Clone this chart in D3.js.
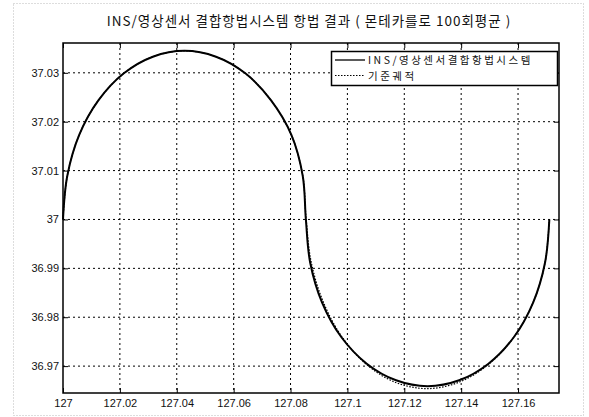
<!DOCTYPE html>
<html>
<head>
<meta charset="utf-8">
<script src="https://cdn.jsdelivr.net/npm/d3@7"></script>
<style>
    body { margin: 0; background: #fff; }
    svg { display: block; }
    .tick text { font-family: "Liberation Sans", Arial, sans-serif; font-size: 11px; fill: #111; }
    .title, .legend text { font-family: "Noto Sans CJK KR", "Liberation Sans", sans-serif; fill: #111; }
</style>
</head>
<body>
<div id="chart"></div>
<script>

// INS/영상센서 결합항법시스템 궤적 (longitude, latitude)
let insLon = [127.0000, 127.0015, 127.0057, 127.0125, 127.0214, 127.0316, 127.0427,
    127.0538, 127.0641, 127.0731, 127.0803, 127.0843, 127.0854,
    127.0869, 127.0911, 127.0979, 127.1068, 127.1171, 127.1282,
    127.1393, 127.1496, 127.1585, 127.1653, 127.1695, 127.1710];
let insLat = [37.0000, 37.0089, 37.0173, 37.0244, 37.0299, 37.0333, 37.0345,
    37.0333, 37.0299, 37.0244, 37.0173, 37.0089, 37.0000,
    36.9912, 36.9830, 36.9759, 36.9705, 36.9671, 36.9659,
    36.9671, 36.9705, 36.9759, 36.9830, 36.9912, 37.0000];

// 기준궤적
let refLon = [127.0000, 127.0015, 127.0057, 127.0125, 127.0214, 127.0316, 127.0427,
    127.0538, 127.0641, 127.0731, 127.0803, 127.0843, 127.0855,
    127.0873, 127.0916, 127.0983, 127.1070, 127.1172, 127.1282,
    127.1392, 127.1495, 127.1585, 127.1653, 127.1695, 127.1710];
let refLat = [37.0000, 37.0089, 37.0173, 37.0244, 37.0299, 37.0333, 37.0345,
    37.0333, 37.0299, 37.0244, 37.0173, 37.0089, 37.0000,
    36.9912, 36.9830, 36.9758, 36.9702, 36.9666, 36.9654,
    36.9667, 36.9703, 36.9759, 36.9830, 36.9912, 37.0000];

let xTicks = [127, 127.02, 127.04, 127.06, 127.08, 127.1, 127.12, 127.14, 127.16];
let yTicks = [36.97, 36.98, 36.99, 37, 37.01, 37.02, 37.03];

let titleText = "INS/영상센서 결합항법시스템 항법 결과 ( 몬테카를로 100회평균 )";
let seriesNames = ["INS/영상센서결합항법시스템", "기준궤적"];

let W = 589, H = 417;
let margin = {top: 43, right: 30, bottom: 24, left: 63};
let width = W - margin.left - margin.right;
let height = H - margin.top - margin.bottom;

let svg = d3.select("#chart").append("svg")
    .attr("width", W)
    .attr("height", H);

// faint page frame
svg.append("rect")
    .attr("x", 13.5).attr("y", 3.5)
    .attr("width", 570).attr("height", 412)
    .attr("fill", "none")
    .attr("stroke", "#bbb")
    .attr("stroke-dasharray", "1,2");

let g = svg.append("g")
    .attr("transform", `translate(${margin.left}, ${margin.top})`);

let x = d3.scaleLinear().domain([127, 127.1744]).range([0, width]);
let y = d3.scaleLinear().domain([36.9645, 37.0361]).range([height, 0]);

// grid
g.append("g").selectAll("line").data(xTicks.slice(1))
    .enter().append("line")
    .attr("x1", d => x(d)).attr("x2", d => x(d))
    .attr("y1", 0).attr("y2", height)
    .attr("stroke", "#000").attr("stroke-width", 1)
    .attr("stroke-dasharray", "2,3");

g.append("g").selectAll("line").data(yTicks)
    .enter().append("line")
    .attr("x1", 0).attr("x2", width)
    .attr("y1", d => y(d)).attr("y2", d => y(d))
    .attr("stroke", "#000").attr("stroke-width", 1)
    .attr("stroke-dasharray", "2,3");

// axes, ticks inward like matlab
let fmt = d => d3.format(".2f")(d).replace(/\.?0+$/, "");

g.append("g")
    .attr("transform", `translate(0, ${height})`)
    .call(d3.axisBottom(x).tickValues(xTicks).tickFormat(fmt).tickSizeInner(-5).tickSizeOuter(0).tickPadding(6))
    .call(a => a.select(".domain").remove());

g.append("g")
    .call(d3.axisLeft(y).tickValues(yTicks).tickFormat(fmt).tickSizeInner(-5).tickSizeOuter(0).tickPadding(4))
    .call(a => a.select(".domain").remove());

g.append("g")
    .call(d3.axisTop(x).tickValues(xTicks).tickFormat("").tickSizeInner(-5).tickSizeOuter(0))
    .call(a => a.select(".domain").remove());

g.append("g")
    .attr("transform", `translate(${width}, 0)`)
    .call(d3.axisRight(y).tickValues(yTicks).tickFormat("").tickSizeInner(-5).tickSizeOuter(0))
    .call(a => a.select(".domain").remove());

g.selectAll(".tick line").attr("stroke", "#000");

g.append("rect")
    .attr("width", width).attr("height", height)
    .attr("fill", "none")
    .attr("stroke", "#000").attr("stroke-width", 1.5);

// trajectories
let line = d3.line()
    .x(d => x(d[0]))
    .y(d => y(d[1]))
    .curve(d3.curveCatmullRom);

let insData = insLon.map((d, i) => [d, insLat[i]]);
let refData = refLon.map((d, i) => [d, refLat[i]]);

g.append("path")
    .datum(refData)
    .attr("d", line)
    .attr("fill", "none")
    .attr("stroke", "#000")
    .attr("stroke-width", 1.2)
    .attr("stroke-dasharray", "1.5,1.5");

g.append("path")
    .datum(insData)
    .attr("d", line)
    .attr("fill", "none")
    .attr("stroke", "#000")
    .attr("stroke-width", 2);

// title
svg.append("text")
    .attr("class", "title")
    .attr("x", 309).attr("y", 26)
    .attr("text-anchor", "middle")
    .attr("font-size", 13.5)
    .attr("letter-spacing", 1)
    .text(titleText);

// legend
let legend = svg.append("g").attr("class", "legend");
legend.append("rect")
    .attr("x", 331.5).attr("y", 51.5)
    .attr("width", 226).attr("height", 34)
    .attr("fill", "#fff")
    .attr("stroke", "#000").attr("stroke-width", 1.5);

seriesNames.forEach((name, i) => {
    let ly = 60 + i * 15.5;
    legend.append("line")
        .attr("x1", 335).attr("x2", 365)
        .attr("y1", ly).attr("y2", ly)
        .attr("stroke", "#000")
        .attr("stroke-width", i === 0 ? 1.3 : 1.2)
        .attr("stroke-dasharray", i === 0 ? null : "1.5,1.5");
    legend.append("text")
        .attr("x", 368).attr("y", ly + 4)
        .attr("font-size", 10.5)
        .attr("letter-spacing", 2.5)
        .text(name);
});

</script>
</body>
</html>
